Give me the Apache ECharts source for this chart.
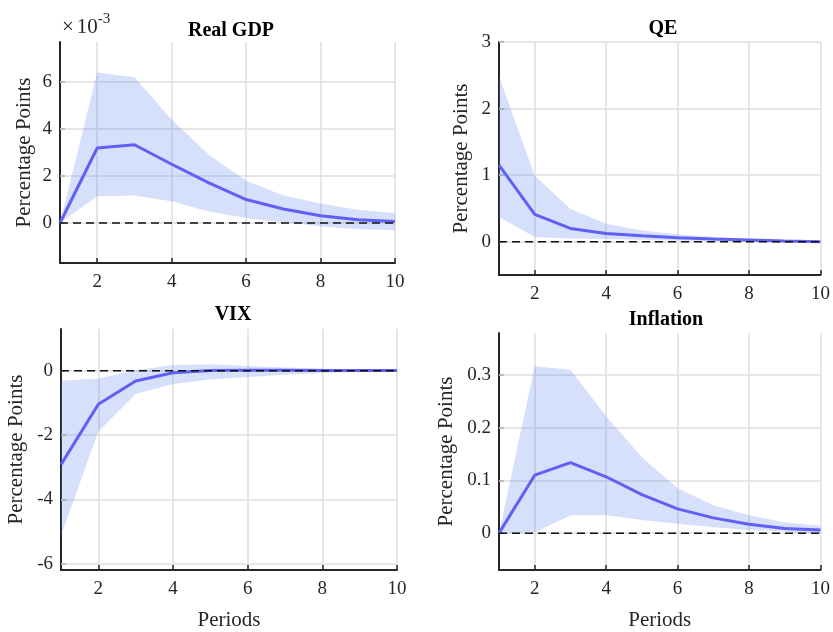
<!DOCTYPE html>
<html>
<head>
    <meta charset="utf-8">
    <title>Impulse responses</title>
    <script src="https://cdn.jsdelivr.net/npm/echarts@6/dist/echarts.min.js"></script>
    <style>
        html, body { margin: 0; padding: 0; background: #fff; }
        #chart { width: 833px; height: 632px; }
    </style>
</head>
<body>
    <div id="chart"></div>
    <script>
        // periods on the x axis
        var periods = ['1', '2', '3', '4', '5', '6', '7', '8', '9', '10'];

        // Real GDP (x 10^-3)
        var gdpMean  = [0, 3.19, 3.33, 2.5, 1.71, 1.0, 0.6, 0.31, 0.14, 0.07];
        var gdpUpper = [0, 6.4, 6.2, 4.4, 2.9, 1.8, 1.17, 0.83, 0.57, 0.43];
        var gdpLower = [0, 1.14, 1.17, 0.93, 0.49, 0.21, 0.03, -0.14, -0.26, -0.31];
        var gdpTicks = [0, 2, 4, 6];

        // QE
        var qeMean  = [1.15, 0.41, 0.2, 0.125, 0.09, 0.06, 0.04, 0.025, 0.01, 0.0];
        var qeUpper = [2.48, 0.99, 0.49, 0.27, 0.17, 0.11, 0.07, 0.04, 0.025, 0.01];
        var qeLower = [0.37, 0.07, 0.05, 0.04, 0.03, 0.02, 0.01, 0.005, 0, -0.02];
        var qeTicks = [0, 1, 2, 3];

        // VIX
        var vixMean  = [-2.92, -1.04, -0.32, -0.06, 0.01, 0.02, 0.02, 0.01, 0.01, 0.01];
        var vixUpper = [-0.31, -0.24, 0.02, 0.18, 0.2, 0.15, 0.1, 0.06, 0.04, 0.02];
        var vixLower = [-5.13, -1.89, -0.72, -0.41, -0.27, -0.19, -0.12, -0.07, -0.04, -0.02];
        var vixTicks = [-6, -4, -2, 0];

        // Inflation
        var infMean  = [0, 0.11, 0.134, 0.107, 0.073, 0.046, 0.029, 0.017, 0.009, 0.006];
        var infUpper = [0, 0.317, 0.31, 0.222, 0.144, 0.085, 0.053, 0.034, 0.02, 0.014];
        var infLower = [0, 0.001, 0.034, 0.034, 0.025, 0.018, 0.011, 0.006, 0.003, -0.002];
        var infTicks = [0, 0.1, 0.2, 0.3];

        var FONT = 'Liberation Serif';
        var INK = '#262626';
        var GRIDLINE = '#dedede';
        var BAND = 'rgba(91,131,239,0.25)';
        var LINE = '#6060f4';

        var panels = [
            { name: 'Real GDP',  mean: gdpMean, upper: gdpUpper, lower: gdpLower, ticks: gdpTicks,
              min: -1.7, max: 7.7, grid: { left: 60, right: 438, top: 42, height: 221 }, nameGap: 25, periods: false,
              title: [226, 16] },
            { name: 'QE',        mean: qeMean, upper: qeUpper, lower: qeLower, ticks: qeTicks,
              min: -0.5, max: 3, grid: { left: 499, right: 11, top: 42, height: 233 }, nameGap: 27, periods: false,
              title: [658, 14] },
            { name: 'VIX',       mean: vixMean, upper: vixUpper, lower: vixLower, ticks: vixTicks,
              min: -6.2, max: 1.3, grid: { left: 61, right: 436, top: 329, height: 243 }, nameGap: 34, periods: true,
              title: [228, 300] },
            { name: 'Inflation', mean: infMean, upper: infUpper, lower: infLower, ticks: infTicks,
              min: -0.07, max: 0.38, grid: { left: 499, right: 10, top: 333, height: 243 }, nameGap: 42, periods: true,
              title: [661, 305] }
        ];

        var everyOther = function (index) { return index % 2 === 1; };

        var option = {
            animation: false,
            backgroundColor: '#fff',
            textStyle: { fontFamily: FONT },
            title: [],
            grid: [],
            xAxis: [],
            yAxis: [],
            series: [],
            graphic: [{
                type: 'text',
                left: 62,
                top: 12,
                style: {
                    text: '{x|\u00d7}{b|10}{s|-3}',
                    rich: {
                        x: { fontFamily: FONT, fontSize: 21, fill: INK, verticalAlign: 'bottom', lineHeight: 26, padding: [0, 3, 0, 0] },
                        b: { fontFamily: FONT, fontSize: 21, fill: INK, verticalAlign: 'bottom', lineHeight: 26 },
                        s: { fontFamily: FONT, fontSize: 15, fill: INK, verticalAlign: 'top', lineHeight: 26, padding: [0, 0, 12, 0] }
                    }
                }
            }]
        };

        panels.forEach(function (p, i) {
            option.title.push({
                text: p.name,
                left: p.title[0],
                top: p.title[1],
                textAlign: 'center',
                textStyle: { fontFamily: FONT, fontSize: 20, fontWeight: 'bold', color: '#000' }
            });

            option.grid.push(p.grid);

            option.xAxis.push({
                type: 'category',
                gridIndex: i,
                data: periods,
                boundaryGap: false,
                name: p.periods ? 'Periods' : '',
                nameLocation: 'middle',
                nameGap: 40,
                nameTextStyle: { fontFamily: FONT, fontSize: 21, color: INK },
                axisLine: { onZero: false, lineStyle: { color: INK, width: 2 } },
                axisTick: { inside: true, length: 5, interval: everyOther, lineStyle: { color: INK, width: 1.5 } },
                axisLabel: { interval: everyOther, margin: 10, fontFamily: FONT, fontSize: 19, color: INK },
                splitLine: { show: true, interval: everyOther, lineStyle: { color: GRIDLINE, width: 1.5 } }
            });

            option.yAxis.push({
                type: 'value',
                gridIndex: i,
                min: p.min,
                max: p.max,
                name: 'Percentage Points',
                nameLocation: 'middle',
                nameGap: p.nameGap,
                nameTextStyle: { fontFamily: FONT, fontSize: 21, color: INK },
                axisLine: { show: true, onZero: false, lineStyle: { color: INK, width: 2 } },
                axisTick: { show: true, inside: true, length: 5, customValues: p.ticks, lineStyle: { color: INK, width: 1.5 } },
                axisLabel: { customValues: p.ticks, margin: 8, fontFamily: FONT, fontSize: 19, color: INK },
                splitLine: { show: false }
            });

            var diff = p.upper.map(function (v, k) { return v - p.lower[k]; });

            // horizontal grid lines at the y ticks
            option.series.push({
                type: 'line',
                xAxisIndex: i,
                yAxisIndex: i,
                data: [],
                z: 1,
                silent: true,
                markLine: {
                    z: 1,
                    silent: true,
                    symbol: 'none',
                    label: { show: false },
                    lineStyle: { color: GRIDLINE, type: 'solid', width: 1.5 },
                    data: p.ticks.map(function (t) { return { yAxis: t }; })
                }
            });

            // confidence band
            option.series.push({
                type: 'line',
                xAxisIndex: i,
                yAxisIndex: i,
                data: p.lower,
                stack: 'band' + i,
                stackStrategy: 'all',
                symbol: 'none',
                lineStyle: { opacity: 0 },
                z: 2,
                silent: true
            });
            option.series.push({
                type: 'line',
                xAxisIndex: i,
                yAxisIndex: i,
                data: diff,
                stack: 'band' + i,
                stackStrategy: 'all',
                symbol: 'none',
                lineStyle: { opacity: 0 },
                areaStyle: { color: BAND, opacity: 1 },
                z: 2,
                silent: true
            });

            // median response
            option.series.push({
                type: 'line',
                xAxisIndex: i,
                yAxisIndex: i,
                data: p.mean,
                symbol: 'none',
                lineStyle: { color: LINE, width: 3 },
                z: 6
            });

            // zero line
            option.series.push({
                type: 'line',
                xAxisIndex: i,
                yAxisIndex: i,
                data: periods.map(function () { return 0; }),
                symbol: 'none',
                lineStyle: { color: '#111', width: 1.5, type: [8, 5] },
                z: 7,
                silent: true
            });
        });

        var chart = echarts.init(document.getElementById('chart'));
        chart.setOption(option);
    </script>
</body>
</html>
